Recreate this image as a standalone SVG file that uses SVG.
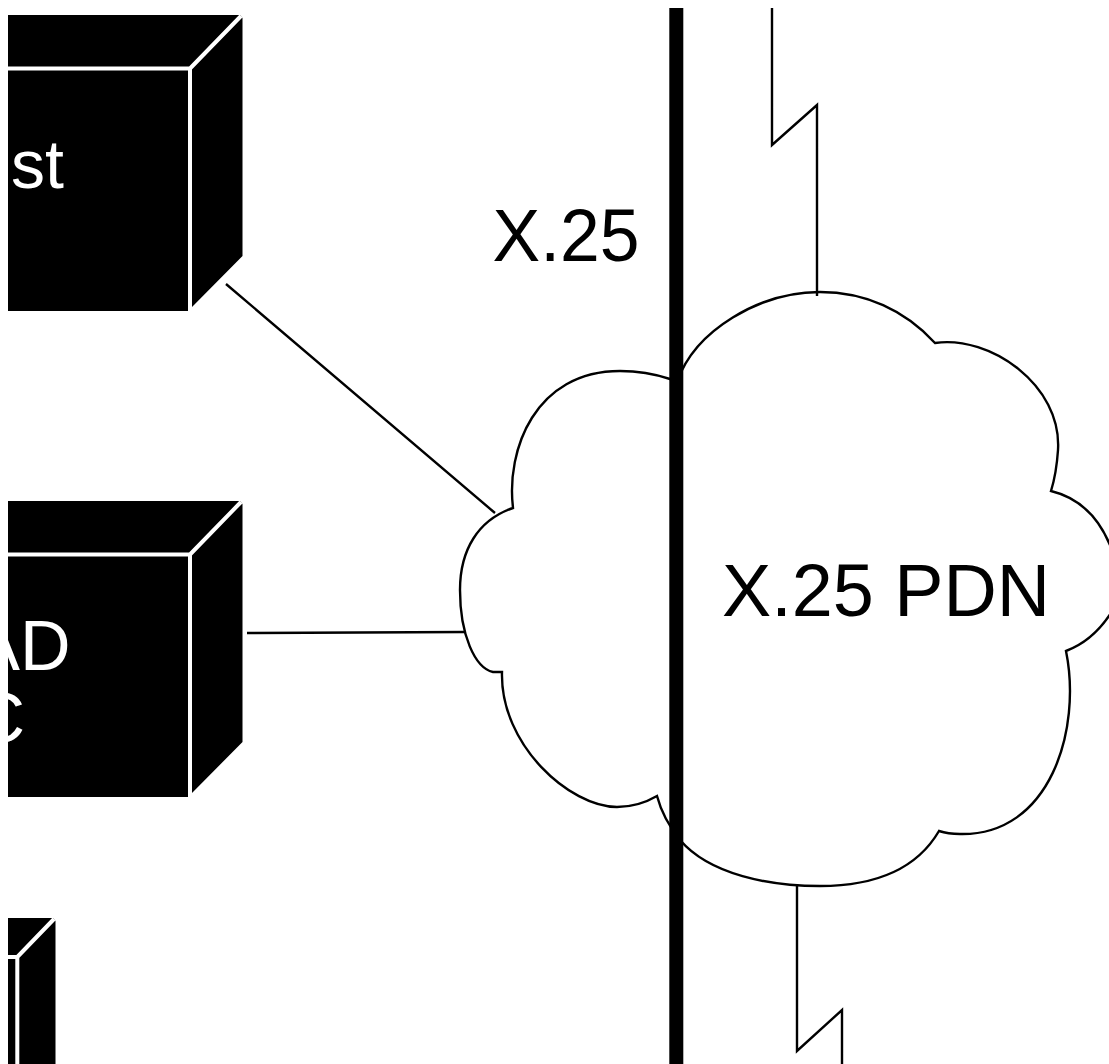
<svg xmlns="http://www.w3.org/2000/svg" width="1109" height="1064" viewBox="0 0 1109 1064">
<style>
.t{font-family:"Liberation Sans",Arial,sans-serif}
.b{font-size:70px}
.w{fill:#fff}
.k{fill:#000}
.wl{fill:none;stroke:#fff;stroke-width:4}
.cn{fill:none;stroke:#000;stroke-width:2.4}
</style>
<defs>
<clipPath id="pg"><rect x="8" y="8" width="1101" height="1056"/></clipPath>
<g id="box">
<path class="k" d="M8,15H240L242.5,18V256L192,307V311H8Z"/>
<path class="wl" d="M8,68.5H190V311M190,68.5L241,16"/>
</g>
</defs>
<rect width="1109" height="1064" fill="#fff"/>
<g clip-path="url(#pg)">
<g id="host">
<use href="#box"/>
<text class="t w" x="64" y="188" text-anchor="end" font-size="68">st</text>
</g>
<g id="pad">
<use href="#box" y="486"/>
<text class="t w b" x="70.5" y="670" text-anchor="end">AD</text>
<text class="t w b" x="25" y="742" text-anchor="end">C</text>
</g>
<g id="box3">
<path class="k" d="M8,918H53L55.5,921V1064H8Z"/>
<path class="wl" d="M8,957H17.3V1064M17.3,957L54,919"/>
</g>
<g id="connectors">
<path class="cn" d="M226,284L495,513M247,633L465,632"/>
<path class="cn" d="M772,8V145L817,105V296"/>
<path class="cn" d="M797,884V1051L842,1010V1064"/>
</g>
<g id="cloud">
<path class="cn" d="M513,508C506,450 535,371 620,371C640,371 655,374 670,379L677,382C695,330 760,292 820,292C865,292 905,310 935,343C990,335 1062,385 1058,450C1057,465 1055,478 1051,491C1080,498 1100,518 1112,550C1122,580 1120,600 1111,613C1100,630 1085,644 1066,651C1082,730 1050,836 960,834C952,834 945,833 939,831C915,872 870,886 820,886C770,886 710,875 680,840C672,830 662,815 657,796C645,803 630,807 617,807C570,807 500,745 502,672C499,672 496,672 493,672C475,668 460,635 460,590C460,550 478,520 513,508Z"/>
<text class="t k" x="722" y="616" font-size="74" textLength="328" lengthAdjust="spacingAndGlyphs">X.25 PDN</text>
</g>
<g id="link">
<rect class="k" x="669.3" y="8" width="14" height="1056"/>
<text class="t k" x="492.500" y="261" font-size="75" textLength="147" lengthAdjust="spacingAndGlyphs">X.25</text>
</g>
</g>
</svg>
